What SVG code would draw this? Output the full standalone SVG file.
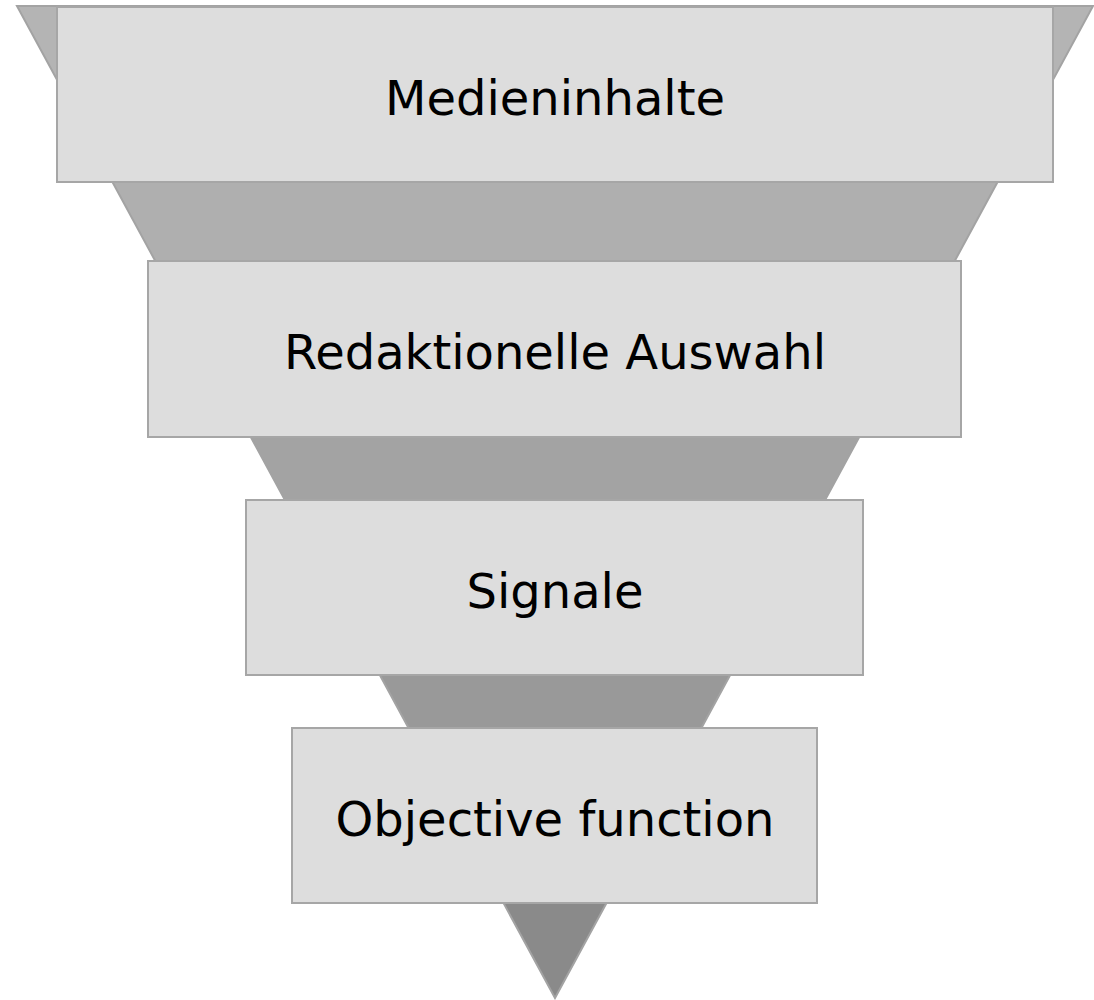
<svg xmlns="http://www.w3.org/2000/svg" width="1094" height="1000" viewBox="0 0 1094 1000">
  <style>
    .stage { fill: #dddddd; stroke: #a6a6a6; stroke-width: 2; }
    .label { font-family: "DejaVu Sans", sans-serif; font-size: 48px; fill: #000000; text-anchor: middle; }
    .band { stroke: none; }
    .outline { fill: none; stroke: #a3a3a3; stroke-width: 2; stroke-linejoin: miter; }
  </style>
  <rect width="1094" height="1000" fill="#ffffff"/>

  <!-- funnel body: shaded bands, darker towards the tip -->
  <g id="funnel">
    <polygon class="band" fill="#b4b4b4" points="17,6 1093,6 1044.7,95 65.3,95"/>
    <polygon class="band" fill="#afafaf" points="65.3,95 1044.7,95 907,349 203,349"/>
    <polygon class="band" fill="#a3a3a3" points="203,349 907,349 777.4,588 332.6,588"/>
    <polygon class="band" fill="#999999" points="332.6,588 777.4,588 653.7,816 456.3,816"/>
    <polygon class="band" fill="#8a8a8a" points="456.3,816 653.7,816 555,998"/>
    <polygon class="outline" points="17,6 1093,6 555,998"/>
  </g>

  <g id="stage-medieninhalte">
    <rect class="stage" x="57" y="7" width="996" height="175"/>
    <text class="label" x="555" y="115">Medieninhalte</text>
  </g>
  <g id="stage-redaktionelle-auswahl">
    <rect class="stage" x="148" y="261" width="813" height="176"/>
    <text class="label" x="555" y="369">Redaktionelle Auswahl</text>
  </g>
  <g id="stage-signale">
    <rect class="stage" x="246" y="500" width="617" height="175"/>
    <text class="label" x="555" y="608">Signale</text>
  </g>
  <g id="stage-objective-function">
    <rect class="stage" x="292" y="728" width="525" height="175"/>
    <text class="label" x="555" y="836">Objective function</text>
  </g>
</svg>
